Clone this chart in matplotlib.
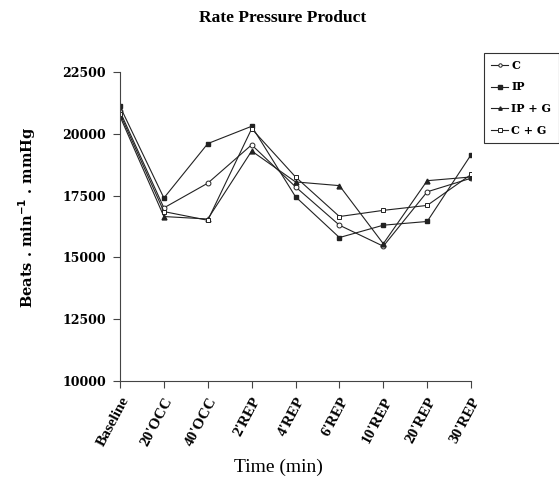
import matplotlib
matplotlib.use("Agg")
import matplotlib.pyplot as plt

times = ["Baseline", "20'OCC", "40'OCC", "2'REP", "4'REP", "6'REP", "10'REP", "20'REP", "30'REP"]

c_vals = [20900, 17000, 18000, 19550, 17850, 16300, 15450, 17650, 18200]
ip_vals = [21100, 17400, 19600, 20300, 17450, 15800, 16300, 16450, 19150]
ipg_vals = [20700, 16650, 16550, 19300, 18050, 17900, 15550, 18100, 18250]
cg_vals = [20800, 16850, 16500, 20200, 18250, 16650, 16900, 17100, 18350]

yticks = [10000, 12500, 15000, 17500, 20000, 22500]

plt.rcParams['font.family'] = ['Liberation Serif', 'DejaVu Serif']
slab = 'DejaVu Serif'

fig = plt.figure(figsize=(5.59, 4.83), dpi=100)
ax = fig.add_axes([0.2147, 0.2112, 0.628, 0.64])

x = list(range(len(times)))
col = '#222222'
ax.plot(x, c_vals, color=col, lw=0.8, marker='o', ms=3.5, mfc='white', mec=col, mew=0.7, label='C')
ax.plot(x, ip_vals, color=col, lw=0.8, marker='s', ms=3.5, mfc=col, mec=col, label='IP')
ax.plot(x, ipg_vals, color=col, lw=0.8, marker='^', ms=3.5, mfc=col, mec=col, label='IP + G')
ax.plot(x, cg_vals, color=col, lw=0.8, marker='s', ms=3.5, mfc='white', mec=col, mew=0.7, label='C + G')

ax.set_xlim(0, len(times) - 1)
ax.set_ylim(10000, 22500)
ax.set_yticks(yticks)
ax.set_yticklabels([str(v) for v in yticks], fontweight='bold', fontsize=9, family=slab)
ax.set_xticks(x)
ax.set_xticklabels(times, rotation=62, ha='right', rotation_mode='anchor',
                   fontweight='bold', fontsize=11)

ax.spines['top'].set_visible(False)
ax.spines['right'].set_visible(False)
ax.spines['left'].set_color('#444444')
ax.spines['bottom'].set_color('#444444')
ax.tick_params(axis='both', direction='out', length=5, color='#444444', width=0.8, pad=5)

ax.set_ylabel("Beats . min$^{\\mathbf{-1}}$ . mmHg", fontweight='bold', fontsize=10.5, family=slab)
ax.yaxis.set_label_coords(-0.235, 0.53)
ax.set_xlabel("Time (min)", fontsize=14)
ax.xaxis.set_label_coords(0.45, -0.25)
fig.text(0.505, 0.962, "Rate Pressure Product", ha='center', va='center',
         fontweight='bold', fontsize=12.5)

leg = fig.legend(loc='upper left', bbox_to_anchor=(0.866, 0.891), frameon=True,
                 fancybox=False, edgecolor='black', handlelength=1.5,
                 prop={'weight': 'bold', 'size': 8, 'family': slab}, borderaxespad=0,
                 labelspacing=0.95, handletextpad=0.3, borderpad=0.65, markerscale=0.7)
leg.get_frame().set_linewidth(0.8)

fig.savefig("out.png", dpi=100)
